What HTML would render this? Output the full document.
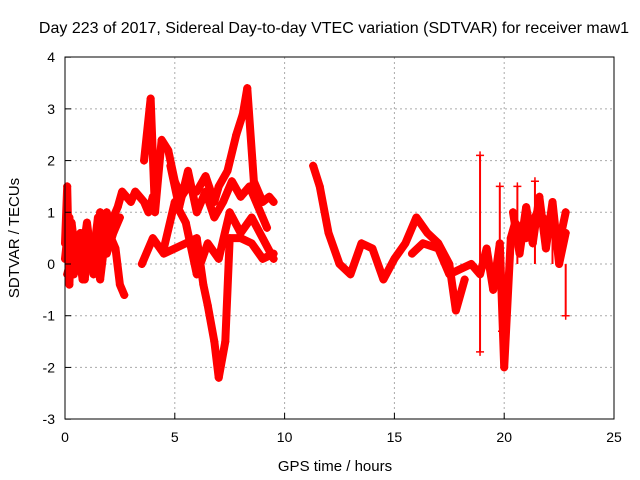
<!DOCTYPE html>
<html><head><meta charset="utf-8"><style>
body{margin:0;background:#fff;}
svg{display:block;font-family:"Liberation Sans",sans-serif;}
</style></head><body>
<svg id="chart" width="640" height="480">
<text x="334" y="33" font-size="16" text-anchor="middle">Day 223 of 2017, Sidereal Day-to-day VTEC variation (SDTVAR) for receiver maw1</text>
<text x="335" y="471" font-size="15" text-anchor="middle">GPS time / hours</text>
<text transform="translate(19,238) rotate(-90)" font-size="15" text-anchor="middle">SDTVAR / TECUs</text>
<g id="grid"></g>
<g id="marks"></g>
<rect x="65" y="57" width="549" height="362" fill="none" stroke="#000"/>
<g id="ticks"></g>
</svg>
<script>
const xTicks=[0,5,10,15,20,25];
const yTicks=[-3,-2,-1,0,1,2,3,4];
const t1=[0,0.1,0.2,0.3,0.5,0.7,0.9,1.1,1.3,1.5,1.7,1.9,2.1,2.3,2.5,2.7];
const v1=[0.4,1.5,-0.4,0.8,0.1,0.6,-0.3,0.5,0.2,0.9,0.3,1.0,0.5,0.3,-0.4,-0.6];
const t2=[0,0.2,0.4,0.6,0.8,1,1.2,1.4,1.6,1.8,2,2.2,2.4,2.6,2.8,3,3.2,3.4,3.6,3.8,4];
const v2=[0.1,0.9,-0.2,0.4,-0.3,0.6,0,0.2,-0.3,0.4,0.7,0.9,1.1,1.4,1.3,1.2,1.4,1.3,1.2,1.0,1.3];
const t1b=[0.1,0.4,0.7,1.0,1.3,1.6,1.9,2.2,2.5];
const v1b=[-0.2,0.3,-0.1,0.8,-0.2,1.0,0.2,0.6,0.9];
const t3=[3.6,3.9,4.1,4.4,4.7,5,5.3,5.6,6,6.4,6.8,7,7.4,7.8,8.1,8.3,8.6,9,9.3,9.5];
const v3=[2.0,3.2,1.0,2.4,2.2,1.6,1.3,1.5,1.4,1.7,1.2,1.5,1.8,2.5,2.9,3.4,1.6,1.2,1.3,1.2];
const t3b=[4.8,5.2,5.6,6,6.4,6.8,7.2,7.6,8,8.4,8.8,9.2];
const v3b=[1.9,1.1,1.8,1.0,1.4,0.9,1.2,1.6,1.3,1.5,1.1,0.7];
const t4=[3.5,4,4.5,5,5.5,6,6.3,6.5,6.8,7,7.3,7.5,8,8.5,9,9.5];
const v4=[0.0,0.5,0.2,0.3,0.4,0.5,-0.4,-0.8,-1.5,-2.2,-1.5,0.5,0.5,0.4,0.1,0.2];
const t5=[4.5,5,5.5,6,6.5,7,7.5,8,8.5,9,9.5];
const v5=[0.3,1.2,0.8,-0.2,0.4,0.1,1.0,0.6,0.9,0.5,0.1];
const t6=[11.3,11.6,12,12.5,13,13.5,14,14.5,15,15.5,16,16.5,17,17.5,17.8,18.2];
const v6=[1.9,1.5,0.6,0.0,-0.2,0.4,0.3,-0.3,0.1,0.4,0.9,0.6,0.4,0.0,-0.9,-0.3];
const t7=[15.8,16.3,17,17.5,18,18.5,18.9,19.2,19.5,19.8,20,20.3,20.5,21,21.5,22,22.5,22.8];
const v7=[0.2,0.4,0.3,-0.2,-0.1,0.0,-0.2,0.3,-0.5,0.4,-2.0,0.5,0.8,0.5,1.0,0.8,0.4,1.0];
const t7b=[20.4,20.7,21,21.3,21.6,21.9,22.2,22.5,22.8];
const v7b=[1.0,0.2,1.1,0.4,1.3,0.3,1.2,0.0,0.6];
const t8=[18.9,18.9,19.8,19.9,20.6,21.4,22.2,22.8];
const v8=[2.1,-1.7,1.5,-1.3,1.5,1.6,1.2,-1.0];
const series=[[t1,v1],[t2,v2],[t1b,v1b],[t3,v3],[t3b,v3b],[t4,v4],[t5,v5],[t6,v6],[t7,v7],[t7b,v7b]];
const spikes=[t8,v8];
const NS="http://www.w3.org/2000/svg";
const X=t=>65+t*549/25, Y=v=>264-v*362/7;
const grid=document.getElementById('grid'),ticks=document.getElementById('ticks'),marks=document.getElementById('marks');
function mk(tag,a,p){const e=document.createElementNS(NS,tag);for(const k in a)e.setAttribute(k,a[k]);p.appendChild(e);return e;}
xTicks.forEach(t=>{
 if(t>0&&t<25){const g=mk('line',{x1:X(t),x2:X(t),y1:57,y2:419,stroke:'#aaa','stroke-dasharray':'2,3'},grid);
 
 }
 const l=mk('line',{x1:X(t),x2:X(t),y1:419,y2:413,stroke:'#000'},ticks);
 
 
 const tx=mk('text',{x:X(t),y:442,'font-size':14,'text-anchor':'middle'},ticks);tx.textContent=t;
 
 
});
yTicks.forEach(v=>{
 if(v>-3&&v<4){const g=mk('line',{x1:65,x2:614,y1:Y(v),y2:Y(v),stroke:'#aaa','stroke-dasharray':'2,3'},grid);
 
 }
 const l=mk('line',{x1:65,x2:71,y1:Y(v),y2:Y(v),stroke:'#000'},ticks);
 
 
 const tx=mk('text',{x:55,y:Y(v)+5,'font-size':14,'text-anchor':'end'},ticks);tx.textContent=v;
 
 
});
function plus(t,v){
 const p=mk('path',{d:`M${X(t)-4},${Y(v)}h8M${X(t)},${Y(v)-4}v8`,stroke:'#f00','stroke-width':1.5},marks);
 
 
}
series.forEach(([ts,vs])=>{
 const pl=mk('polyline',{points:ts.map((t,i)=>X(t)+','+Y(vs[i])).join(' '),fill:'none',stroke:'#f00','stroke-width':8,'stroke-linejoin':'round','stroke-linecap':'round'},marks);
 
 
 ts.forEach((t,i)=>plus(t,vs[i]));
});
spikes[0].forEach((t,i)=>{
 const l=mk('line',{x1:X(t),x2:X(t),y1:Y(0),y2:Y(spikes[1][i]),stroke:'#f00','stroke-width':2},marks);
 
 
 plus(t,spikes[1][i]);
});
</script>
</body></html>
